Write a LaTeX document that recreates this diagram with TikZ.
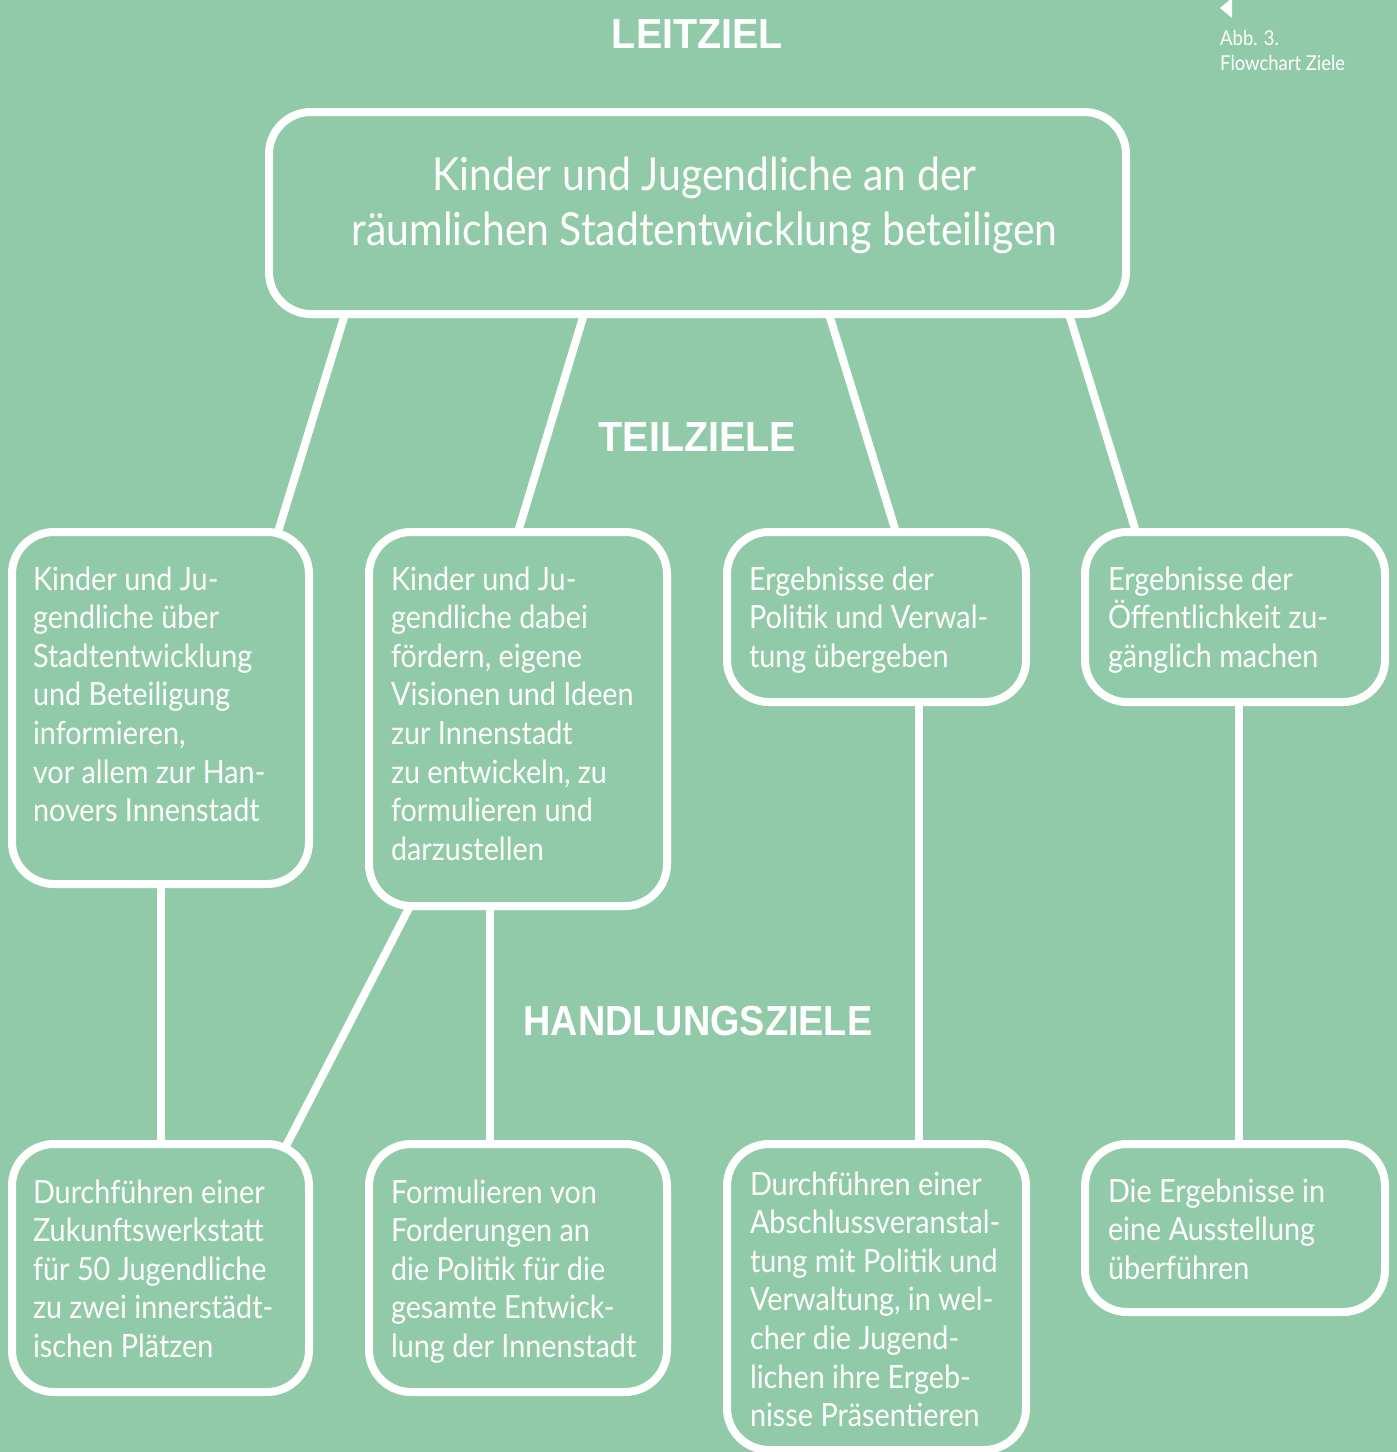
\documentclass[tikz,border=0pt]{standalone}
\usepackage{fontspec}
\setmainfont{Lato}[FakeStretch=0.9]
\newfontfamily\headfont{Liberation Sans}[FakeStretch=0.94]
\newfontfamily\headfontn{Liberation Sans}[FakeStretch=0.9]
\usetikzlibrary{calc}
\definecolor{bg}{RGB}{145,202,169}
\tikzset{
  box/.style={draw=white, line width=8pt, rounded corners=42pt, inner sep=0pt, outer sep=0pt},
  conn/.style={draw=white, line width=8pt},
  txt/.style={text=white, inner sep=0pt, outer sep=0pt, align=left, anchor=base west,
    font=\fontsize{32}{38.6}\selectfont},
  toptxt/.style={text=white, inner sep=0pt, align=center, anchor=base,
    font=\fontsize{45.5}{55}\selectfont},
  head/.style={text=white, inner sep=0pt, anchor=base,
    font=\headfont\bfseries\fontsize{42}{50}\selectfont},
  captxt/.style={text=white, inner sep=0pt, align=left, anchor=base west,
    font=\fontsize{20.5}{25}\selectfont}
}
\begin{document}
\begin{tikzpicture}[x=1pt,y=-1pt]
\fill[bg] (0,0) rectangle (1397,1452);
\useasboundingbox (0,0) rectangle (1397,1452);
\clip (0,0) rectangle (1397,1452);

% caption (anchor = baseline of last line)
\fill[white] (1232,-2) -- (1220,8) -- (1232,18) -- cycle;
\node[captxt] (caption) at (1220,70) {Abb. 3.\\Flowchart Ziele};

% headings
\node[head] (hleit) at (697.5,48) {LEITZIEL};
\node[head] (hteil) at (697.5,451) {TEILZIELE};
\node[head, font=\headfontn\bfseries\fontsize{42}{50}\selectfont] (hhand) at (698,1035) {HANDLUNGSZIELE};

% boxes
\node[box, minimum width=857pt, minimum height=202pt] (top) at (697.5,213) {};
\node[box, minimum width=297pt, minimum height=352pt] (b1) at (160.5,708) {};
\node[box, minimum width=298pt, minimum height=374pt] (b2) at (518,719) {};
\node[box, minimum width=299pt, minimum height=170pt] (b3) at (876.5,617) {};
\node[box, minimum width=300pt, minimum height=170pt] (b4) at (1235,617) {};
\node[box, minimum width=297pt, minimum height=248pt] (c1) at (160.5,1268) {};
\node[box, minimum width=298pt, minimum height=248pt] (c2) at (518,1268) {};
\node[box, minimum width=299pt, minimum height=306pt] (c3) at (876.5,1297) {};
\node[box, minimum width=300pt, minimum height=168pt] (c4) at (1235,1228) {};

% texts (anchor = baseline of last line)
\node[toptxt] (ttop) at (704.5,245) {Kinder und Jugendliche an der\\räumlichen Stadtentwicklung beteiligen};
\node[txt] (tb1) at ($(b1.north west)+(21,289.6)$) {Kinder und Ju-\\gendliche über\\Stadtentwicklung\\und Beteiligung\\informieren,\\vor allem zur Han-\\novers Innenstadt};
\node[txt] (tb2) at ($(b2.north west)+(22,328.2)$) {Kinder und Ju-\\gendliche dabei\\fördern, eigene\\Visionen und Ideen\\zur Innenstadt\\zu entwickeln, zu\\formulieren und\\darzustellen};
\node[txt] (tb3) at ($(b3.north west)+(22,135.2)$) {Ergebnisse der\\Politik und Verwal-\\tung übergeben};
\node[txt] (tb4) at ($(b4.north west)+(23,135.2)$) {Ergebnisse der\\Öffentlichkeit zu-\\gänglich machen};
\node[txt] (tc1) at ($(c1.north west)+(21,213.4)$) {Durchführen einer\\Zukunftswerkstatt\\für 50 Jugendliche\\zu zwei innerstädt-\\ischen Plätzen};
\node[txt] (tc2) at ($(c2.north west)+(22,213.4)$) {Formulieren von\\Forderungen an\\die Politik für die\\gesamte Entwick-\\lung der Innenstadt};
\node[txt] (tc3) at ($(c3.north west)+(23,282.6)$) {Durchführen einer\\Abschlussveranstal-\\tung mit Politik und\\Verwaltung, in wel-\\cher die Jugend-\\lichen ihre Ergeb-\\nisse Präsentieren};
\node[txt] (tc4) at ($(c4.north west)+(23,135.2)$) {Die Ergebnisse in\\eine Ausstellung\\überführen};

% connectors
\draw[conn] ($(top.south west)!0.0887!(top.south east)$) -- ($(b1.north west)!0.8956!(b1.north east)$);
\draw[conn] ($(top.south west)!0.3676!(top.south east)$) -- (b2.north);
\draw[conn] ($(top.south west)!0.6534!(top.south east)$) -- ($(b3.north west)!0.565!(b3.north east)$);
\draw[conn] ($(top.south west)!0.9335!(top.south east)$) -- ($(b4.north west)!0.17!(b4.north east)$);
\draw[conn] (b1.south) -- (c1.north);
\draw[conn, shorten >=-4pt] ($(b2.south west)!0.1376!(b2.south east)$) -- ($(c1.north west)!0.926!(c1.north east)$);
\draw[conn] ($(b2.south west)!0.406!(b2.south east)$) coordinate (p2) -- (p2 |- c2.north);
\draw[conn] ($(b3.south west)!0.642!(b3.south east)$) coordinate (p3) -- (p3 |- c3.north);
\draw[conn] ($(b4.south west)!0.513!(b4.south east)$) coordinate (p4) -- (p4 |- c4.north);
\end{tikzpicture}
\end{document}
